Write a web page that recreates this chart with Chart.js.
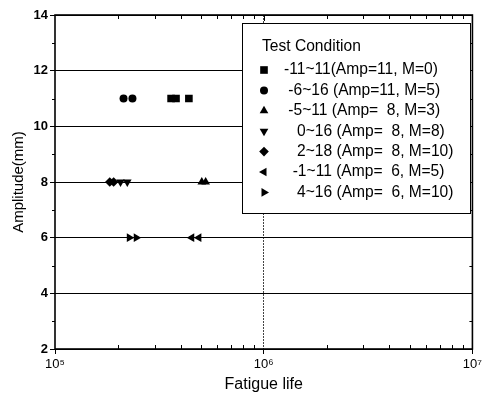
<!DOCTYPE html>
<html>
<head>
<meta charset="utf-8">
<script src="https://cdn.jsdelivr.net/npm/chart.js@4"></script>
<style>
  html, body { margin: 0; padding: 0; background: #fff; }
  #wrap { width: 485px; height: 409px; }
</style>
</head>
<body>
<div id="wrap"><canvas id="fatigueChart" width="485" height="409"></canvas></div>
<script>
// Fatigue life (cycles) of each test condition, grouped by loading range
const conditionLabels = [
  "-11~11(Amp=11, M=0)",
  " -6~16 (Amp=11, M=5)",
  " -5~11 (Amp=  8, M=3)",
  "   0~16 (Amp=  8, M=8)",
  "   2~18 (Amp=  8, M=10)",
  "  -1~11 (Amp=  6, M=5)",
  "   4~16 (Amp=  6, M=10)"
];
const conditionAmplitude = [11, 11, 8, 8, 8, 6, 6];

const lifeM0 = [3.6e5, 3.8e5, 4.38e5];
const lifeAmp11M5 = [2.13e5, 2.35e5];
const lifeAmp8M3 = [5.05e5, 5.27e5];
const lifeAmp8M8 = [2.06e5, 2.22e5];
const lifeAmp8M10 = [1.83e5, 1.91e5];
const lifeAmp6M5 = [4.52e5, 4.89e5];
const lifeAmp6M10 = [2.27e5, 2.45e5];
const conditionLife = [lifeM0, lifeAmp11M5, lifeAmp8M3, lifeAmp8M8, lifeAmp8M10, lifeAmp6M5, lifeAmp6M10];

const lifeTicks = [1e5, 1e6, 1e7];
const lifeTickText = ["10\u2075", "10\u2076", "10\u2077"];
const ampTicks = [2, 4, 6, 8, 10, 12, 14];

// marker shape per condition
const markers = [
  { pointStyle: "rect", radius: 5.4, rotation: 0 },
  { pointStyle: "circle", radius: 4, rotation: 0 },
  { pointStyle: "triangle", radius: 5, rotation: 0 },
  { pointStyle: "triangle", radius: 5, rotation: 180 },
  { pointStyle: "rectRot", radius: 4.8, rotation: 0 },
  { pointStyle: "triangle", radius: 5, rotation: 270 },
  { pointStyle: "triangle", radius: 5, rotation: 90 }
];

const datasets = conditionLabels.map((label, i) => ({
  label: label,
  data: conditionLife[i].map((v) => ({ x: v, y: conditionAmplitude[i] })),
  pointStyle: markers[i].pointStyle,
  pointRadius: markers[i].radius,
  pointHoverRadius: markers[i].radius,
  rotation: markers[i].rotation,
  backgroundColor: "#000",
  borderColor: "#000",
  borderWidth: 0,
  showLine: false,
}));

const FONT = '"Liberation Sans", Arial, sans-serif';

// box around the plot plus minor ticks
const frameTicks = {
  id: "frameTicks",
  afterDraw(chart) {
    const { ctx, chartArea: a, scales } = chart;
    const xs = scales.x, ys = scales.y;
    ctx.save();
    ctx.strokeStyle = "#000";
    ctx.lineWidth = 1;
    ctx.beginPath();
    // minor x ticks, pointing inward from bottom and top
    for (let d = 1e5; d < 1e7; d *= 10) {
      for (let k = 2; k <= 9; k++) {
        const px = Math.round(xs.getPixelForValue(k * d)) + 0.5;
        ctx.moveTo(px, a.bottom);
        ctx.lineTo(px, a.bottom - 4);
        ctx.moveTo(px, a.top);
        ctx.lineTo(px, a.top + 4);
      }
    }
    // mid tick on top axis
    const mid = Math.round(xs.getPixelForValue(1e6)) + 0.5;
    ctx.moveTo(mid, a.top);
    ctx.lineTo(mid, a.top + 6);
    // minor y ticks
    for (let v = 3; v < 14; v += 2) {
      const py = Math.round(ys.getPixelForValue(v)) + 0.5;
      ctx.moveTo(a.left, py);
      ctx.lineTo(a.left - 3, py);
      ctx.moveTo(a.right, py);
      ctx.lineTo(a.right - 3, py);
    }
    ctx.stroke();
    ctx.lineWidth = 1.6;
    ctx.strokeRect(a.left, a.top, a.right - a.left, a.bottom - a.top);
    ctx.restore();
  },
};

// legend box drawn inside the plot
const conditionLegend = {
  id: "conditionLegend",
  afterDraw(chart) {
    const ctx = chart.ctx;
    const bx = 242, by = 23, bw = 228, bh = 190;
    ctx.save();
    ctx.fillStyle = "#fff";
    ctx.fillRect(bx, by, bw, bh);
    ctx.strokeStyle = "#000";
    ctx.lineWidth = 1;
    ctx.strokeRect(bx + 0.5, by + 0.5, bw, bh);
    ctx.fillStyle = "#000";
    ctx.font = "15.6px " + FONT;
    ctx.textBaseline = "middle";
    ctx.textAlign = "left";
    ctx.fillText("Test Condition", 262, 47);
    chart.data.datasets.forEach((ds, i) => {
      const y = 70 + i * 20.4;
      Chart.helpers.drawPoint(ctx, {
        pointStyle: ds.pointStyle,
        rotation: ds.rotation,
        radius: ds.pointRadius,
        borderWidth: 0,
      }, 264, y);
      ctx.fillStyle = "#000";
      ctx.fillText(ds.label, 284, y);
    });
    ctx.restore();
  },
};

new Chart(document.getElementById("fatigueChart"), {
  type: "scatter",
  data: { datasets: datasets },
  plugins: [frameTicks, conditionLegend],
  options: {
    responsive: false,
    animation: false,
    events: [],
    layout: { padding: { top: 15, right: 9, bottom: 4, left: 0 } },
    plugins: {
      legend: { display: false },
      tooltip: { enabled: false },
    },
    scales: {
      x: {
        type: "logarithmic",
        min: 1e5,
        max: 1e7,
        afterBuildTicks: (scale) => {
          scale.ticks = lifeTicks.map((v) => ({ value: v }));
        },
        afterFit: (scale) => {
          scale.height = 56;
        },
        ticks: {
          autoSkip: false,
          maxRotation: 0,
          padding: 3,
          color: "#000",
          font: { family: FONT, size: 13 },
          callback: (v) => lifeTickText[lifeTicks.indexOf(v)],
        },
        grid: {
          color: (c) => (c.tick && c.tick.value === 1e6 ? "#444" : "rgba(0,0,0,0)"),
          tickColor: "#000",
          tickLength: 5,
          lineWidth: 1,
        },
        border: { display: false, dash: [2, 1] },
        title: {
          display: true,
          text: "Fatigue life",
          color: "#000",
          font: { family: FONT, size: 16 },
          padding: { top: 0, bottom: 11 },
        },
      },
      y: {
        min: 2,
        max: 14,
        afterBuildTicks: (scale) => {
          scale.ticks = ampTicks.map((v) => ({ value: v }));
        },
        afterFit: (scale) => {
          scale.width = 55;
        },
        ticks: {
          padding: 2,
          color: "#000",
          font: { family: FONT, size: 13, weight: "bold" },
        },
        grid: {
          color: "#000",
          tickColor: "#000",
          tickLength: 5,
          lineWidth: 1,
        },
        border: { display: false },
        title: {
          display: true,
          text: "Amplitude(mm)",
          color: "#000",
          font: { family: FONT, size: 15 },
          padding: { top: 10, bottom: 0 },
        },
      },
    },
  },
});
</script>
</body>
</html>
